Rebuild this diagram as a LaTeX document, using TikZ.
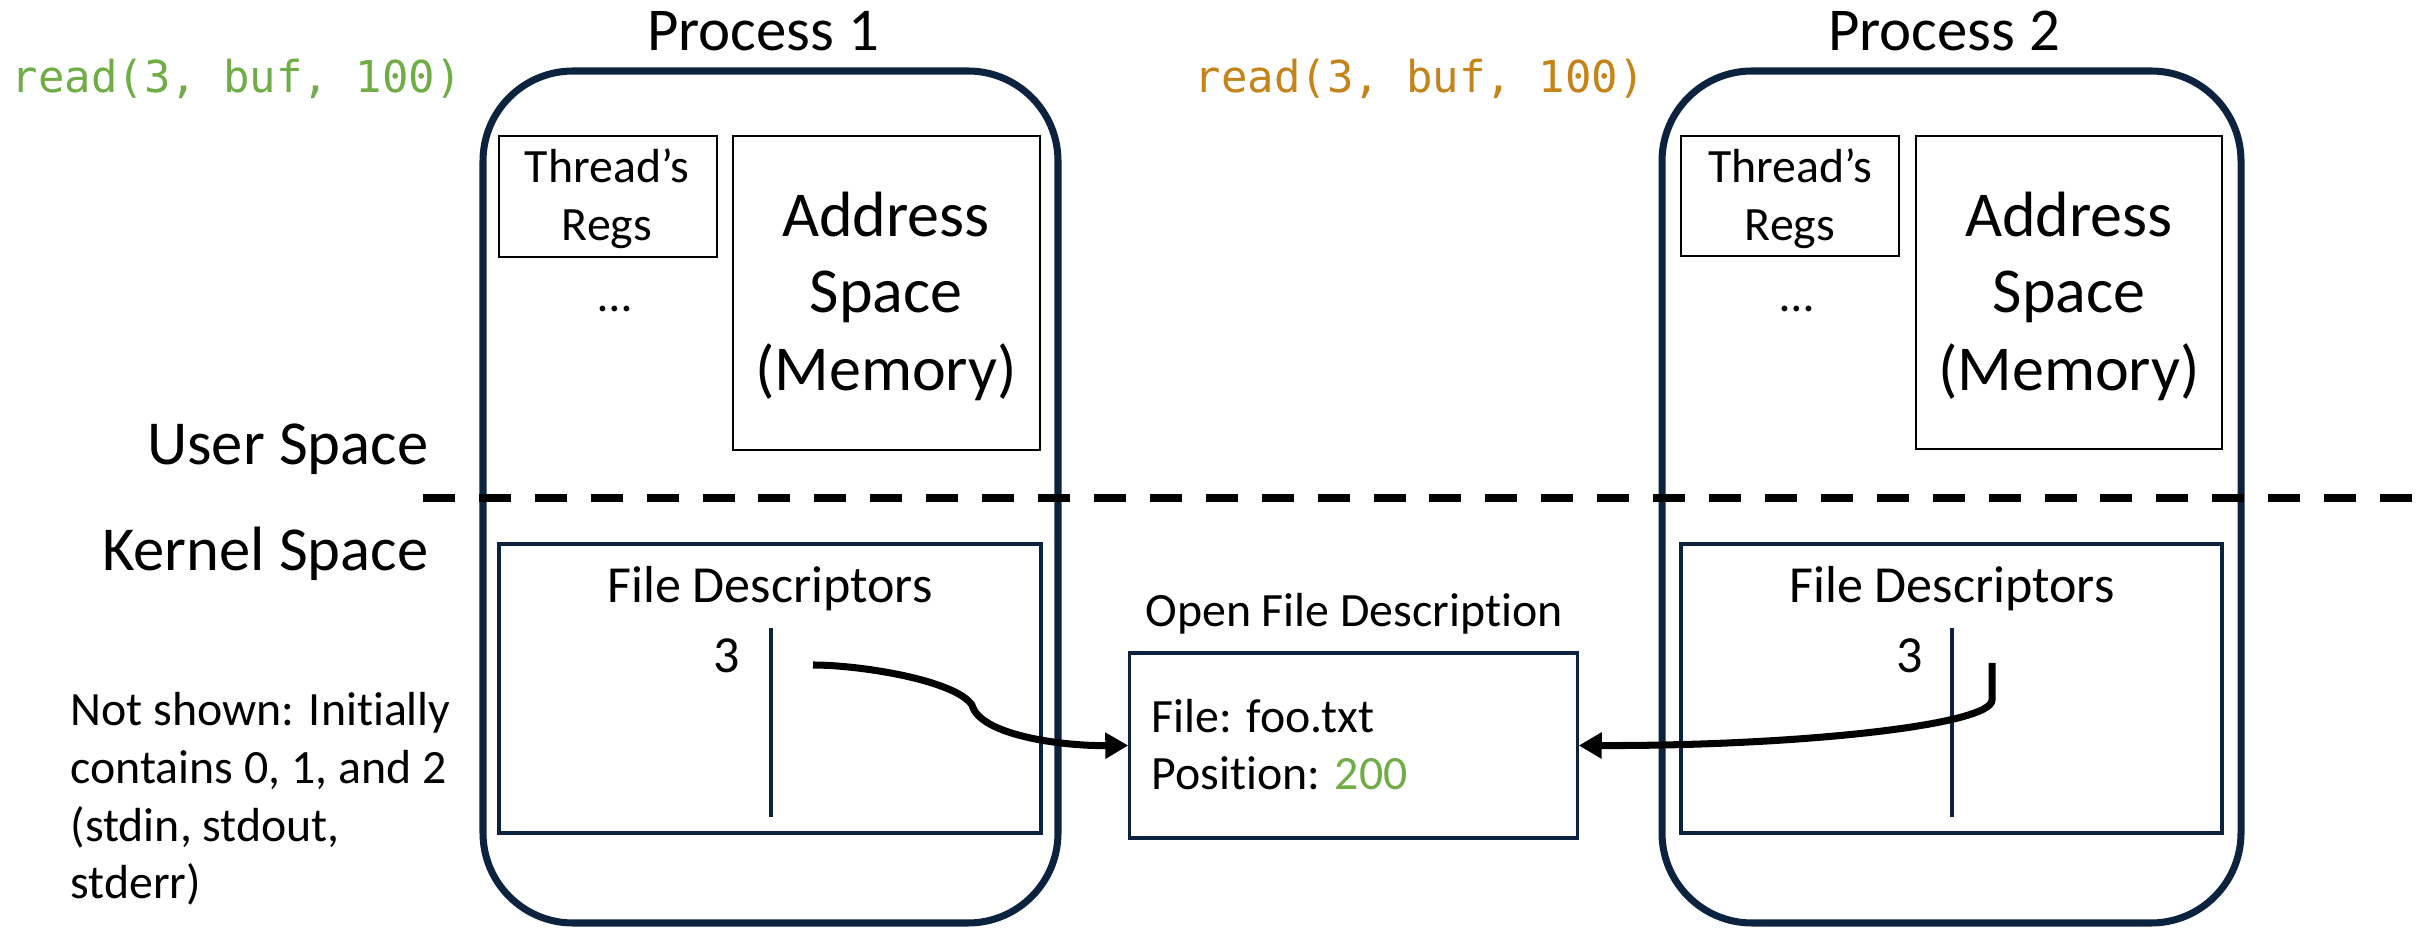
\documentclass[tikz,border=0pt]{standalone}
\usepackage{fontspec}
\setmainfont{Carlito}[Ligatures=NoCommon]
\setmonofont{DejaVu Sans Mono}
\usetikzlibrary{arrows.meta}

\definecolor{navy}{HTML}{0C2340}
\definecolor{codegreen}{HTML}{70AD47}
\definecolor{codegold}{HTML}{C5841A}

\begin{document}
\begin{tikzpicture}[x=0.01cm, y=-0.01cm,
    procbox/.style={draw=navy, line width=2pt, rounded corners=0.9cm},
    regbox/.style={draw=black, line width=0.8pt},
    fdbox/.style={draw=navy, line width=0.9pt},
    txt/.style={inner sep=0pt, anchor=base, font=\fontsize{13.6}{16.4}\selectfont},
    fdtxt/.style={inner sep=0pt, anchor=base, font=\fontsize{14.8}{17.8}\selectfont},
    memtxt/.style={inner sep=0pt, anchor=base, font=\fontsize{18.2}{21}\selectfont},
    title/.style={inner sep=0pt, anchor=base, font=\fontsize{17.3}{20}\selectfont},
    side/.style={inner sep=0pt, anchor=base east, font=\fontsize{17.8}{21}\selectfont},
    code/.style={inner sep=0pt, anchor=base west, font=\ttfamily\fontsize{12.5}{15}\selectfont},
    ptr/.style={line width=2pt, -{Triangle[length=0.23cm, width=0.25cm]}}]
    \useasboundingbox (0,0) rectangle (2430,928);

    % the two processes
    \draw[procbox] (483,71) rectangle (1058,923);
    \draw[procbox] (1662,71) rectangle (2241,923);
    \node[title] (p1) at (763,51) {Process 1};
    \node[title] (p2) at (1944,51) {Process 2};
    \node[code, text=codegreen] (read1) at (11,93) {read(3, buf, 100)};
    \node[code, text=codegold] (read2) at (1194,93) {read(3, buf, 100)};

    % user space, process 1
    \draw[regbox] (499,136) rectangle (717,257);
    \node[txt] (regs1a) at (607,183) {Thread’s};
    \node[txt] (regs1b) at (607,241) {Regs};
    \node[txt] (dots1) at (615,312) {…};
    \draw[regbox] (733,136) rectangle (1040,450);
    \node[memtxt] (mem1a) at (886,237) {Address};
    \node[memtxt] (mem1b) at (886,313) {Space};
    \node[memtxt] (mem1c) at (886,391) {(Memory)};

    % user space, process 2
    \draw[regbox] (1681,136) rectangle (1899,256);
    \node[txt] (regs2a) at (1790,183) {Thread’s};
    \node[txt] (regs2b) at (1790,241) {Regs};
    \node[txt] (dots2) at (1797,312) {…};
    \draw[regbox] (1916,136) rectangle (2222,449);
    \node[memtxt] (mem2a) at (2069,237) {Address};
    \node[memtxt] (mem2b) at (2069,313) {Space};
    \node[memtxt] (mem2c) at (2069,391) {(Memory)};

    % user/kernel boundary
    \draw[line width=2.5pt, dash pattern=on 9.1pt off 6.8pt] (423,498) -- (2430,498);
    \node[side] (user) at (429,465) {User Space};
    \node[side] (kernel) at (429,571) {Kernel Space};
    \node[txt, anchor=north west, align=left] (note) at (70,692)
        {Not shown: Initially\\contains 0, 1, and 2\\(stdin, stdout,\\stderr)};

    % fd tables
    \draw[fdbox] (499,544) rectangle (1041,833);
    \node[fdtxt] (fd1) at (770,603) {File Descriptors};
    \draw[fdbox] (771,628) -- (771,817);
    \node[fdtxt] (fd1n) at (727,673) {3};
    \coordinate (fd1out) at (813,665);

    \draw[fdbox] (1681,544) rectangle (2222,833);
    \node[fdtxt] (fd2) at (1952,603) {File Descriptors};
    \draw[fdbox] (1952,628) -- (1952,817);
    \node[fdtxt] (fd2n) at (1910,673) {3};
    \coordinate (fd2out) at (1992,663);

    % shared open file description
    \node[txt] (ofdlbl) at (1354,627) {Open File Description};
    \node[fdbox, minimum width=4.47cm, minimum height=1.85cm, inner sep=0pt] (ofd) at (1353.5,745.5) {};
    \node[txt, anchor=base west] (ofdfile) at (1151,732) {File: foo.txt};
    \node[txt, anchor=base west] (ofdpos) at (1151,790) {Position: \textcolor{codegreen}{200}};

    \draw[ptr] (fd1out) .. controls (860,665) and (955,680) .. (972,705)
        .. controls (980,735) and (1060,746) .. (ofd.west);
    \draw[ptr] (fd2out) -- (1992,700) .. controls (1992,725) and (1800,746) .. (ofd.east);
\end{tikzpicture}
\end{document}
